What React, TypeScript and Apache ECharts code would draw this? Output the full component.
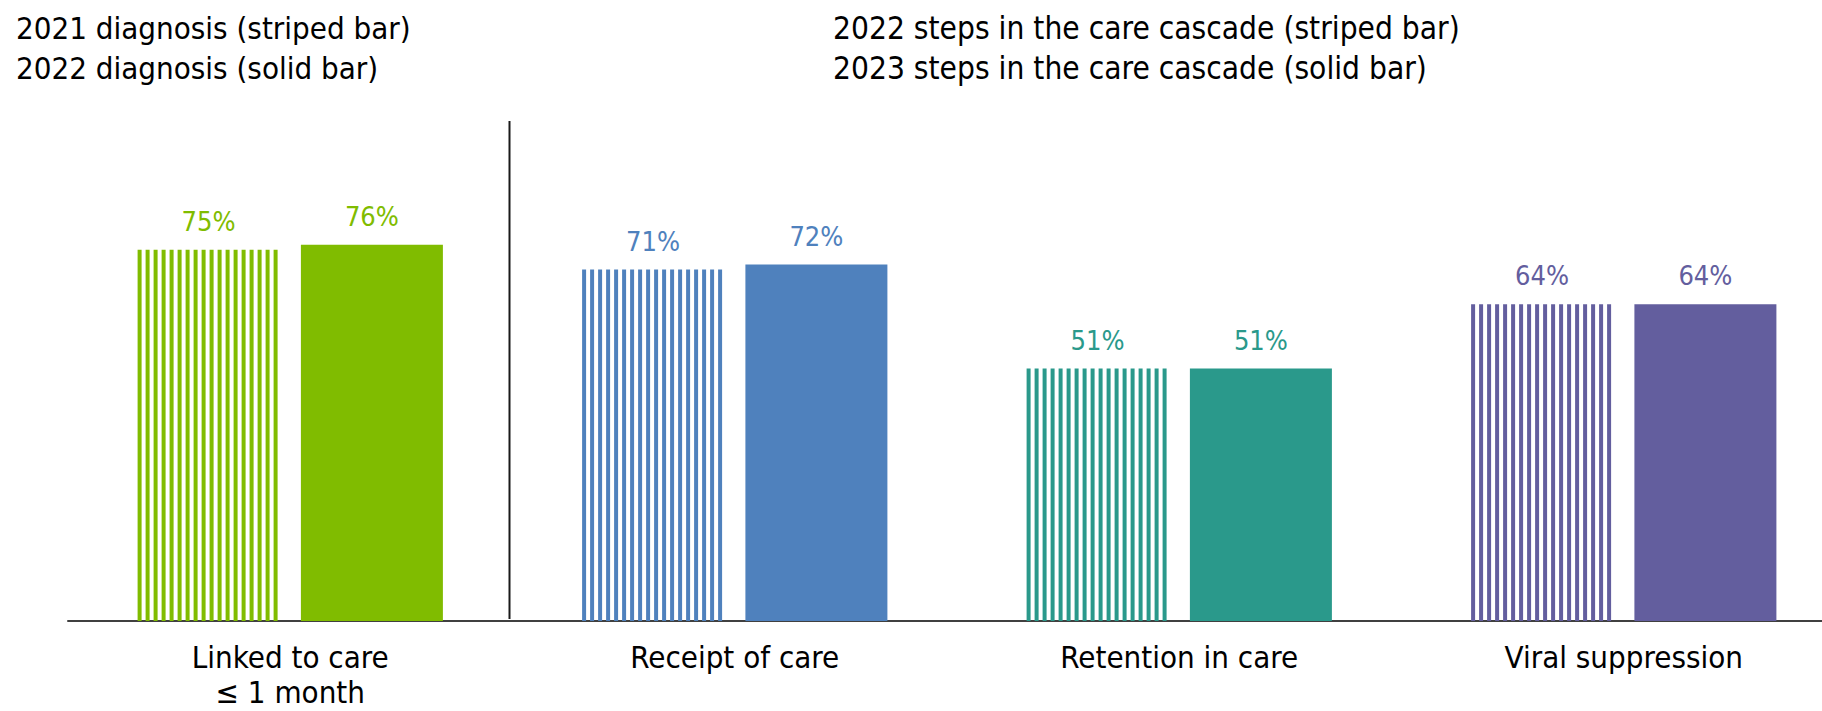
import React, { useEffect, useRef } from "react";
import * as echarts from "echarts";

const categories = ["Linked to care\n≤ 1 month", "Receipt of care", "Retention in care", "Viral suppression"];
const stripedValues = [75, 71, 51, 64];
const solidValues = [76, 72, 51, 64];
const colors = ["#80BC00", "#4F81BD", "#2A998B", "#635E9E"];
const legendLeft = ["2021 diagnosis (striped bar)", "2022 diagnosis (solid bar)"];
const legendRight = ["2022 steps in the care cascade (striped bar)", "2023 steps in the care cascade (solid bar)"];

const FONT = "'DejaVu Sans Condensed', 'DejaVu Sans', sans-serif";
const BAR_WIDTH = 142;
const GAP_RATIO = 0.15;
const STRIPE_W = 4;
const STRIPE_PERIOD = 8;

export default function App() {
  const ref = useRef<HTMLDivElement>(null);
  useEffect(() => {
    if (!ref.current) return;
    const chart = echarts.init(ref.current, undefined, { renderer: "svg" });
    const labelFor = (i: number) => ({
      show: true,
      position: "top",
      distance: 15,
      color: colors[i],
      fontFamily: FONT,
      fontSize: 27,
      formatter: "{c}%",
    });
    const legendTexts = [
      ...legendLeft.map((t, i) => ({
        type: "text",
        x: 16,
        y: 27.5 + i * 40.5,
        style: { text: t, font: `31px ${FONT}`, fill: "#000", verticalAlign: "middle", align: "left" },
      })),
      ...legendRight.map((t, i) => ({
        type: "text",
        x: 833,
        y: 27.5 + i * 40.5,
        style: { text: t, font: `31.4px ${FONT}`, fill: "#000", verticalAlign: "middle", align: "left" },
      })),
    ];
    const option: any = {
      animation: false,
      backgroundColor: "#ffffff",
      grid: { left: 68, top: 126, width: 1778, height: 495, containLabel: false, outerBoundsMode: "none" },
      xAxis: {
        type: "category",
        data: categories,
        axisLine: { show: true, lineStyle: { color: "#404040", width: 2 } },
        axisTick: { show: false },
        axisLabel: {
          color: "#000000",
          fontFamily: FONT,
          fontSize: 31,
          lineHeight: 35,
          margin: 18.5,
          interval: 0,
        },
        splitLine: { show: false },
      },
      yAxis: { type: "value", min: 0, max: 100, show: false, splitLine: { show: false } },
      graphic: legendTexts,
      series: [
        {
          type: "bar",
          name: "striped",
          barWidth: BAR_WIDTH,
          barGap: `${GAP_RATIO * 100}%`,
          data: stripedValues.map((v, i) => ({
            value: v,
            itemStyle: { color: "rgba(0,0,0,0)" },
            label: labelFor(i),
          })),
        },
        {
          type: "bar",
          name: "solid",
          barWidth: BAR_WIDTH,
          barGap: `${GAP_RATIO * 100}%`,
          data: solidValues.map((v, i) => ({
            value: v,
            itemStyle: { color: colors[i] },
            label: labelFor(i),
          })),
        },
        {
          type: "custom",
          name: "stripes",
          data: stripedValues.map((v, i) => [i, v]),
          encode: { x: 0, y: 1 },
          renderItem: (params: any, api: any) => {
            const idx = api.value(0);
            const v = api.value(1);
            const top = api.coord([idx, v]);
            const base = api.coord([idx, 0]);
            const groupW = BAR_WIDTH * 2 + BAR_WIDTH * GAP_RATIO;
            const left = top[0] - groupW / 2;
            const children: any[] = [];
            for (let x = 0; x < BAR_WIDTH; x += STRIPE_PERIOD) {
              children.push({
                type: "rect",
                shape: { x: left + x, y: top[1], width: Math.min(STRIPE_W, BAR_WIDTH - x), height: base[1] - top[1] },
                style: { fill: colors[idx] },
              });
            }
            return { type: "group", children };
          },
        },
      ],
    };
    chart.setOption(option);
    // divider between the first category and the rest, placed from the axis scale
    const c0 = chart.convertToPixel({ xAxisIndex: 0 }, 0) as number;
    const c1 = chart.convertToPixel({ xAxisIndex: 0 }, 1) as number;
    const yTop = chart.convertToPixel({ yAxisIndex: 0 }, 101) as number;
    const yBot = chart.convertToPixel({ yAxisIndex: 0 }, 0) as number;
    const divX = (c0 + c1) / 2 - 3;
    chart.setOption({
      graphic: [
        ...legendTexts,
        {
          type: "line",
          shape: { x1: divX, y1: yTop, x2: divX, y2: yBot - 2 },
          style: { stroke: "#1a1a1a", lineWidth: 2 },
        },
      ],
    });
    return () => chart.dispose();
  }, []);
  return (
    <div style={{ position: "absolute", left: 0, top: 0, width: 1822, height: 711, overflow: "hidden", background: "#fff" }}>
      <div ref={ref} style={{ width: 1822, height: 711 }} />
    </div>
  );
}
